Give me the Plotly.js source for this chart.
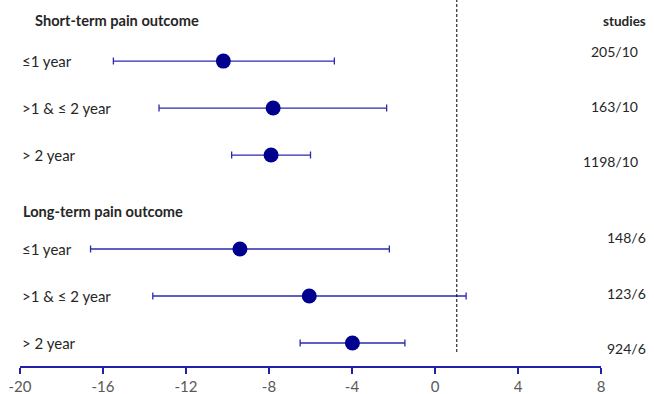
<!DOCTYPE html>
<html>
<head>
<meta charset="utf-8">
<script src="https://cdn.plot.ly/plotly-3.0.1.min.js"></script>
<style>html,body{margin:0;padding:0;background:#fff;}#chart{width:654px;height:394px;}</style>
</head>
<body>
<div id="chart"></div>
<script>
// Data
const rowLabels = ["≤1 year", ">1 & ≤ 2 year", "> 2 year", "≤1 year", ">1 & ≤ 2 year", "> 2 year"];
const rowIndex = [0, 1, 2, 4, 5, 6];
const estimate = [-10.2, -7.8, -7.9, -9.4, -6.06, -3.98];
const lower = [-15.5, -13.3, -9.8, -16.6, -13.6, -6.5];
const upper = [-4.85, -2.33, -6.0, -2.2, 1.5, -1.45];
const studies = ["205/10", "163/10", "1198/10", "148/6", "123/6", "924/6"];
const groupTitles = ["Short-term pain outcome", "Long-term pain outcome"];
const groupTitlePos = [-0.87, 3.2];
const refLine = 1.05;
const xTicks = [-20, -16, -12, -8, -4, 0, 4, 8];

// Layout helpers (positions, not data)
const studyShift = [10, 2, -6, 12, 2, -6];
const studyRight = [640, 640, 640, 648, 648, 648];
const groupTitleX = [33, 21];

const navy = "#00008f";
const lineBlue = "#2a2ab0";
const font = "Lato, 'Open Sans', sans-serif";

const trace = {
  type: "scatter",
  mode: "markers",
  x: estimate,
  y: rowIndex,
  marker: {color: navy, size: 15},
  error_x: {
    type: "data",
    symmetric: false,
    array: estimate.map((e, i) => upper[i] - e),
    arrayminus: estimate.map((e, i) => e - lower[i]),
    color: lineBlue,
    thickness: 1.3,
    width: 3.5
  },
  hoverinfo: "skip",
  cliponaxis: false
};

const L = 20, W = 581;
const annotations = [];
rowLabels.forEach((t, i) => {
  annotations.push({xref: "paper", yref: "y", x: 0, y: rowIndex[i], xanchor: "left", yanchor: "middle",
    text: t, showarrow: false, font: {family: font, size: 15, color: "#262626"}});
  annotations.push({xref: "paper", yref: "y", x: (studyRight[i] - L) / W, y: rowIndex[i], yshift: studyShift[i], xanchor: "right", yanchor: "middle",
    text: studies[i], showarrow: false, font: {family: font, size: 14, color: "#262626"}});
});
groupTitles.forEach((t, i) => {
  annotations.push({xref: "paper", yref: "y", x: (groupTitleX[i] - L) / W, y: groupTitlePos[i], xanchor: "left", yanchor: "middle",
    text: "<b>" + t + "</b>", showarrow: false, font: {family: font, size: 14.6, color: "#262626"}});
});
annotations.push({xref: "paper", yref: "y", x: (648 - L) / W, y: -0.85, xanchor: "right", yanchor: "middle",
  text: "<b>studies</b>", showarrow: false, font: {family: font, size: 13.5, color: "#262626"}});

const layout = {
  width: 654, height: 394,
  margin: {l: L, r: 654 - L - W, t: 0, b: 28},
  paper_bgcolor: "#fff", plot_bgcolor: "#fff",
  showlegend: false,
  xaxis: {
    range: [-20, 8], tickvals: xTicks, ticktext: xTicks.map(String),
    showgrid: false, zeroline: false, showline: true, linecolor: "#2020a8", linewidth: 1.5,
    ticks: "outside", ticklen: 6, tickcolor: "#2020a8", tickwidth: 1.5,
    tickfont: {family: font, size: 15, color: "#595959"}, fixedrange: true
  },
  yaxis: {
    range: [6.49, -1.30], visible: false, showgrid: false, zeroline: false, fixedrange: true
  },
  shapes: [{type: "line", xref: "x", yref: "paper", x0: refLine, x1: refLine, y0: 14 / 366, y1: 1,
    line: {color: "#000", width: 1, dash: "3px,2px"}}],
  annotations: annotations
};

Plotly.newPlot("chart", [trace], layout, {displayModeBar: false, staticPlot: true});
</script>
</body>
</html>
